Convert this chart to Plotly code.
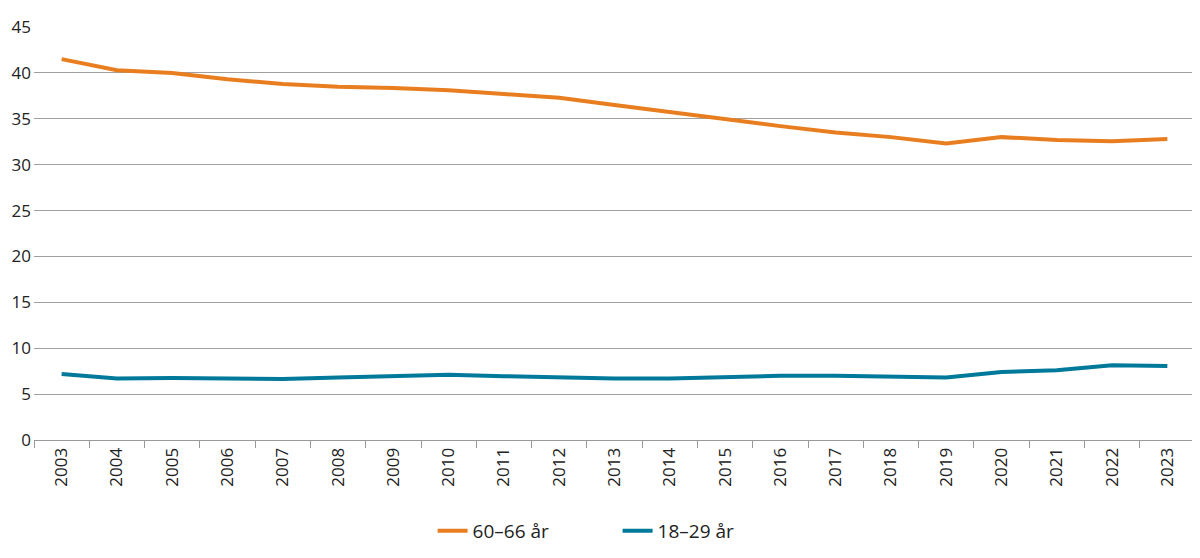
import plotly.graph_objects as go

years = [str(y) for y in range(2003, 2024)]
age_60_66 = [41.5, 40.3, 40.0, 39.3, 38.8, 38.5, 38.35, 38.1, 37.7, 37.3, 36.5,
             35.7, 35.0, 34.2, 33.5, 33.0, 32.3, 33.0, 32.7, 32.55, 32.8]
age_18_29 = [7.2, 6.7, 6.75, 6.65, 6.65, 6.8, 6.9, 7.1, 6.95, 6.8, 6.7,
             6.7, 6.85, 7.0, 7.0, 6.9, 6.8, 7.4, 7.6, 8.15, 8.05]
y_ticks = [0, 5, 10, 15, 20, 25, 30, 35, 40, 45]

fig = go.Figure()
fig.add_trace(go.Scatter(x=years, y=age_60_66, mode="lines", name="60–66 år",
                         line=dict(color="#E87E1F", width=4)))
fig.add_trace(go.Scatter(x=years, y=age_18_29, mode="lines", name="18–29 år",
                         line=dict(color="#00799B", width=4)))

fig.update_layout(
    width=1200, height=558,
    margin=dict(l=26, r=13, t=19, b=126, autoexpand=False),
    paper_bgcolor="white", plot_bgcolor="white",
    font=dict(family="Open Sans", size=16, color="#222"),
    showlegend=True,
    legend=dict(orientation="h", x=0.508, xanchor="center", xref="container",
                y=0.063, yanchor="middle", yref="container",
                font=dict(size=19), traceorder="normal",
                entrywidth=140, entrywidthmode="pixels"),
    xaxis=dict(type="category", tickangle=-90, showgrid=False, automargin=False,
               showline=True, linecolor="#999", linewidth=1,
               ticks="outside", tickson="boundaries", ticklen=7, tickcolor="#999",
               range=[-0.5, 20.5], tickfont=dict(size=17)),
    yaxis=dict(range=[0, 45], tickvals=y_ticks, showgrid=True, gridcolor="#A0A0A0",
               gridwidth=1, zeroline=False, showline=False, ticks="", automargin=False,
               tickfont=dict(size=17), ticklabelstandoff=2),
)

fig.write_html("out.html")
